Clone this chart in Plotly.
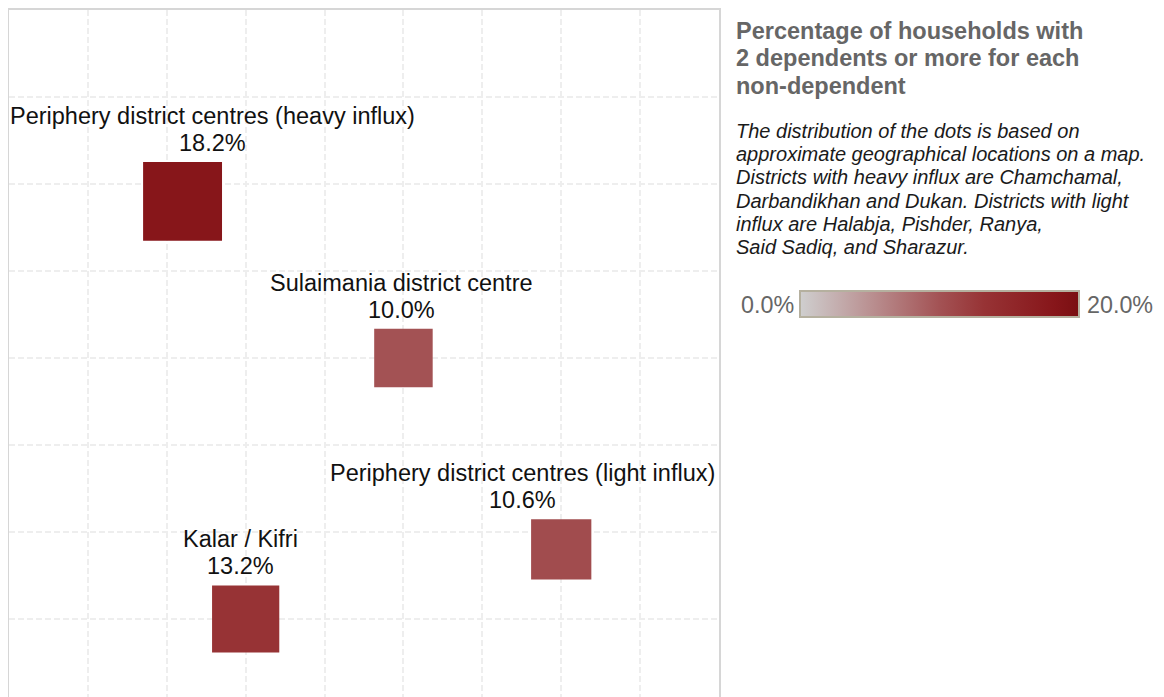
import numpy as np
import plotly.graph_objects as go

# Data: district groups, share of households, approximate map positions
districts = [
    'Periphery district centres (heavy influx)',
    'Sulaimania district centre',
    'Periphery district centres (light influx)',
    'Kalar / Kifri',
]
pct = [18.2, 10.0, 10.6, 13.2]
map_x = [2.2, 5.0, 7.0, 3.0]
map_y = [5.8, 4.0, 1.8, 1.0]

title_lines = [
    'Percentage of households with',
    '2 dependents or more for each',
    'non-dependent',
]
note_lines = [
    'The distribution of the dots is based on',
    'approximate geographical locations on a map.',
    'Districts with heavy influx are Chamchamal,',
    'Darbandikhan and Dukan. Districts with light',
    'influx are Halabja, Pishder, Ranya,',
    'Said Sadiq, and Sharazur.',
]
scale_min, scale_max = 0.0, 20.0

FONT = 'Liberation Sans, Arial, sans-serif'
# the page body adds an 8px margin, so the figure is a bit smaller than the window
BODY = 8
W, H = 1164 - BODY, 697 - BODY
L, T = 1, 2
plot_w = 710
plot_h = H - T
R = W - L - plot_w
unit_y = 87

# helpers: window pixel -> paper coords
def px_x(p):
    return (p - BODY - L) / plot_w

def px_y(p):
    return (697 - p) / plot_h

reds = [
    [0.0, '#CFCFCF'],
    [0.25, '#BA9192'],
    [0.5, '#A35254'],
    [0.66, '#973335'],
    [0.91, '#87161A'],
    [1.0, '#7A0F12'],
]

sizes = [18.5 * np.sqrt(v) for v in pct]

fig = go.Figure(go.Scatter(
    x=map_x, y=map_y, mode='markers',
    marker=dict(
        symbol='square', size=sizes, color=pct, opacity=1,
        cmin=scale_min, cmax=scale_max, colorscale=reds,
        line=dict(width=0),
        colorbar=dict(
            orientation='h', lenmode='pixels', len=279,
            thickness=26, thicknessmode='pixels',
            x=px_x(939.5), xanchor='center',
            y=px_y(305), yanchor='middle',
            xpad=0, ypad=0,
            outlinecolor='#B5B09F', outlinewidth=2,
            showticklabels=False, ticks='',
        ),
    ),
    text=districts,
    hovertemplate='%{text}<br>%{marker.color:.1f}%<extra></extra>',
))

annotations = []
# labels above each square (name + value), offset in px from the square
label_dx = [30, -2, -39, -5]
for name, v, x, y, s, dx in zip(districts, pct, map_x, map_y, sizes, label_dx):
    annotations.append(dict(
        x=x, y=y, xref='x', yref='y', text=name, showarrow=False,
        xshift=dx, yshift=s / 2 + 46, yanchor='middle',
        font=dict(family=FONT, size=23.5, color='#111111'),
    ))
    annotations.append(dict(
        x=x, y=y, xref='x', yref='y', text=f'{v:.1f}%', showarrow=False,
        xshift=dx, yshift=s / 2 + 19, yanchor='middle',
        font=dict(family=FONT, size=23.5, color='#111111'),
    ))

for i, line in enumerate(title_lines):
    annotations.append(dict(
        x=px_x(734), y=px_y(30.5 + 27.5 * i), xref='paper', yref='paper',
        text=f'<b>{line}</b>', showarrow=False, xanchor='left', yanchor='middle',
        font=dict(family=FONT, size=23.5, color='#666666'),
    ))

for i, line in enumerate(note_lines):
    annotations.append(dict(
        x=px_x(734), y=px_y(131 + 23.2 * i), xref='paper', yref='paper',
        text=f'<i>{line}</i>', showarrow=False, xanchor='left', yanchor='middle',
        font=dict(family=FONT, size=20, color='#1A1A1A'),
    ))

annotations.append(dict(
    x=px_x(796), y=px_y(305), xref='paper', yref='paper',
    text=f'{scale_min:.1f}%', showarrow=False, xanchor='right', yanchor='middle',
    font=dict(family=FONT, size=23.3, color='#666666'),
))
annotations.append(dict(
    x=px_x(1085), y=px_y(305), xref='paper', yref='paper',
    text=f'{scale_max:.1f}%', showarrow=False, xanchor='left', yanchor='middle',
    font=dict(family=FONT, size=23.3, color='#666666'),
))

fig.update_layout(
    width=W, height=H,
    margin=dict(l=L, r=R, t=T, b=0, pad=0, autoexpand=False),
    paper_bgcolor='white', plot_bgcolor='white',
    showlegend=False,
    annotations=annotations,
    xaxis=dict(
        range=[0, 9], dtick=1, tick0=0, side='top',
        showticklabels=False, ticks='', zeroline=False,
        showgrid=True, gridcolor='#EEEEEE', gridwidth=1.5, griddash='6px,3px',
        showline=True, linecolor='#D6D6D6', linewidth=1.5,
        fixedrange=True,
    ),
    yaxis=dict(
        range=[8 - plot_h / unit_y, 8], dtick=1, tick0=0,
        showticklabels=False, ticks='', zeroline=False,
        showgrid=True, gridcolor='#EEEEEE', gridwidth=1.5, griddash='6px,3px',
        showline=True, mirror=True, linecolor='#D6D6D6', linewidth=1.5,
        fixedrange=True,
    ),
)

fig.write_html('out.html')
